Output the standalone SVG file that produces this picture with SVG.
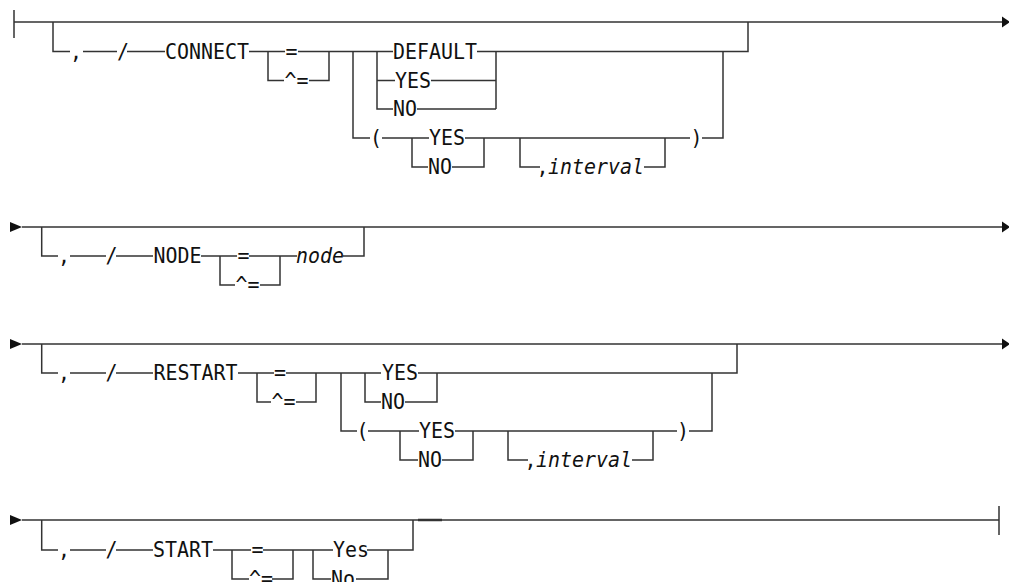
<svg xmlns="http://www.w3.org/2000/svg" width="1009" height="582" viewBox="0 0 1009 582">
<style>
.t{font-family:"DejaVu Sans Mono","Liberation Mono",monospace;font-size:21.5px;fill:#111}
.i{font-style:italic}
.c{stroke:#333;stroke-width:1.5;fill:none}
.a{fill:#111;stroke:none}
</style>
<rect width="1009" height="582" fill="#fff"/>
<g id="connectors">
  <!-- row 1 -->
  <path class="c" d="M14 10V38M14 22H1002"/>
  <polygon class="a" points="1002,16.5 1010,22 1002,27.5"/>
  <path class="c" d="M53 22V51.5H70M83 51.5H117M127 51.5H165M249 51.5H285M298 51.5H393M268 51.5V80.5H284M309 80.5H329V51.5M477 51.5H748V22"/>
  <path class="c" d="M353 51.5V138H370M377 51.5V109H393M377 80.5H395M431 80.5H496V51.5M496 80.5V109M377 109H393M417 109H496"/>
  <path class="c" d="M382 138H429M465 138H690M412 138V167H428M452 167H484V138M520 138V167H540M644 167H665V138M702 138H723V51.5"/>
  <!-- row 2 -->
  <polygon class="a" points="10,222 22,227 10,232"/>
  <path class="c" d="M22 227H1002M41.7 227V256H58M70 256H106M116 256H153M201 256H237M249 256H297M220 256V285H235M260 285H280V256M343 256H364V227"/>
  <polygon class="a" points="1002,221.5 1010,227 1002,232.5"/>
  <!-- row 3 -->
  <polygon class="a" points="10,339 22,344 10,349"/>
  <path class="c" d="M22 344H1002M41.7 344V373H58M70 373H106M116 373H153M238 373H274M286 373H381M257 373V402H271M296 402H316V373"/>
  <path class="c" d="M341 373V431H357M365 373V402H381M405 402H437V373M418 373H737V344M368 431H419M455 431H677M689 431H712V373M400 431V460H418M442 460H473V431M508 431V460H528M632 460H653V431"/>
  <polygon class="a" points="1002,338.5 1010,344 1002,349.5"/>
  <!-- row 4 -->
  <polygon class="a" points="10,515 22,520 10,525"/>
  <path class="c" d="M22 520H999M999 506V535M41.7 520V550H58M70 550H106M116 550H153M213 550H251M263 550H333M232 550V579H249M272 579H293V550M313 550V579H331M356 579H388V550M367 550H413V520"/>
  <path class="c" d="M418 520H442" style="stroke-width:2.5"/>
</g>
<g id="row1">
  <g id="n1-comma"><text class="t" x="70" y="58.5" textLength="12" lengthAdjust="spacingAndGlyphs">,</text></g>
  <g id="n1-slash"><text class="t" x="117" y="58.5" textLength="12" lengthAdjust="spacingAndGlyphs">/</text></g>
  <g id="n1-connect"><text class="t" x="165" y="58.5" textLength="84" lengthAdjust="spacingAndGlyphs">CONNECT</text></g>
  <g id="n1-eq"><text class="t" x="285.5" y="58.5" textLength="12" lengthAdjust="spacingAndGlyphs">=</text></g>
  <g id="n1-neq"><text class="t" x="284.5" y="87.5" textLength="24" lengthAdjust="spacingAndGlyphs">^=</text></g>
  <g id="n1-default"><text class="t" x="393" y="58.5" textLength="84" lengthAdjust="spacingAndGlyphs">DEFAULT</text></g>
  <g id="n1-yes"><text class="t" x="395" y="87.5" textLength="36" lengthAdjust="spacingAndGlyphs">YES</text></g>
  <g id="n1-no"><text class="t" x="393" y="116" textLength="24" lengthAdjust="spacingAndGlyphs">NO</text></g>
  <g id="n1-lpar"><text class="t" x="370" y="145" textLength="12" lengthAdjust="spacingAndGlyphs">(</text></g>
  <g id="n1-yes2"><text class="t" x="429" y="145" textLength="36" lengthAdjust="spacingAndGlyphs">YES</text></g>
  <g id="n1-no2"><text class="t" x="428" y="174" textLength="24" lengthAdjust="spacingAndGlyphs">NO</text></g>
  <g id="n1-interval"><text class="t" x="536.6" y="174" textLength="12" lengthAdjust="spacingAndGlyphs">,</text><text class="t i" x="548" y="174" textLength="96" lengthAdjust="spacingAndGlyphs">interval</text></g>
  <g id="n1-rpar"><text class="t" x="690.5" y="145" textLength="12" lengthAdjust="spacingAndGlyphs">)</text></g>
</g>
<g id="row2">
  <g id="n2-comma"><text class="t" x="58" y="263" textLength="12" lengthAdjust="spacingAndGlyphs">,</text></g>
  <g id="n2-slash"><text class="t" x="105.5" y="263" textLength="12" lengthAdjust="spacingAndGlyphs">/</text></g>
  <g id="n2-node"><text class="t" x="153.5" y="263" textLength="48" lengthAdjust="spacingAndGlyphs">NODE</text></g>
  <g id="n2-eq"><text class="t" x="237.5" y="263" textLength="12" lengthAdjust="spacingAndGlyphs">=</text></g>
  <g id="n2-neq"><text class="t" x="235.5" y="292" textLength="24" lengthAdjust="spacingAndGlyphs">^=</text></g>
  <g id="n2-nodev"><text class="t i" x="296" y="263" textLength="48" lengthAdjust="spacingAndGlyphs">node</text></g>
</g>
<g id="row3">
  <g id="n3-comma"><text class="t" x="58" y="380" textLength="12" lengthAdjust="spacingAndGlyphs">,</text></g>
  <g id="n3-slash"><text class="t" x="105.5" y="380" textLength="12" lengthAdjust="spacingAndGlyphs">/</text></g>
  <g id="n3-restart"><text class="t" x="153.5" y="380" textLength="84" lengthAdjust="spacingAndGlyphs">RESTART</text></g>
  <g id="n3-eq"><text class="t" x="274" y="380" textLength="12" lengthAdjust="spacingAndGlyphs">=</text></g>
  <g id="n3-neq"><text class="t" x="271.5" y="409" textLength="24" lengthAdjust="spacingAndGlyphs">^=</text></g>
  <g id="n3-yes"><text class="t" x="382" y="380" textLength="36" lengthAdjust="spacingAndGlyphs">YES</text></g>
  <g id="n3-no"><text class="t" x="381" y="409" textLength="24" lengthAdjust="spacingAndGlyphs">NO</text></g>
  <g id="n3-lpar"><text class="t" x="356.5" y="438" textLength="12" lengthAdjust="spacingAndGlyphs">(</text></g>
  <g id="n3-yes2"><text class="t" x="419" y="438" textLength="36" lengthAdjust="spacingAndGlyphs">YES</text></g>
  <g id="n3-no2"><text class="t" x="418" y="467" textLength="24" lengthAdjust="spacingAndGlyphs">NO</text></g>
  <g id="n3-interval"><text class="t" x="524.6" y="467" textLength="12" lengthAdjust="spacingAndGlyphs">,</text><text class="t i" x="536" y="467" textLength="96" lengthAdjust="spacingAndGlyphs">interval</text></g>
  <g id="n3-rpar"><text class="t" x="677" y="438" textLength="12" lengthAdjust="spacingAndGlyphs">)</text></g>
</g>
<g id="row4">
  <g id="n4-comma"><text class="t" x="58" y="557" textLength="12" lengthAdjust="spacingAndGlyphs">,</text></g>
  <g id="n4-slash"><text class="t" x="105.5" y="557" textLength="12" lengthAdjust="spacingAndGlyphs">/</text></g>
  <g id="n4-start"><text class="t" x="153" y="557" textLength="60" lengthAdjust="spacingAndGlyphs">START</text></g>
  <g id="n4-eq"><text class="t" x="251.5" y="557" textLength="12" lengthAdjust="spacingAndGlyphs">=</text></g>
  <g id="n4-neq"><text class="t" x="249" y="586" textLength="24" lengthAdjust="spacingAndGlyphs">^=</text></g>
  <g id="n4-yes"><text class="t" x="333" y="557" textLength="36" lengthAdjust="spacingAndGlyphs">Yes</text></g>
  <g id="n4-no"><text class="t" x="331" y="586" textLength="24" lengthAdjust="spacingAndGlyphs">No</text></g>
</g>
</svg>
